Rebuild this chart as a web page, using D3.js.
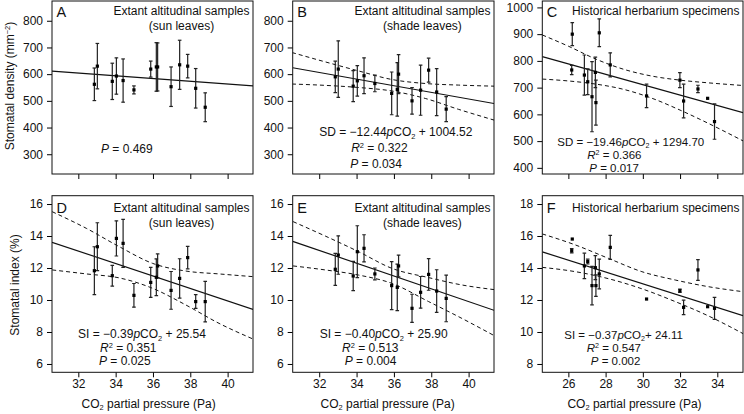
<!DOCTYPE html>
<html>
<head>
<meta charset="utf-8">
<script src="https://d3js.org/d3.v7.min.js"></script>
<style>
  body { margin: 0; background: #fff; }
  svg { font-family: "Liberation Sans", Arial, Helvetica, sans-serif; }
</style>
</head>
<body>
<svg id="chart" width="744" height="414"></svg>
<script>
// ---- data ----
const extantCO2 = [32.86, 33.02, 33.82, 34.04, 34.40, 34.98, 35.88, 36.18, 36.25, 36.97, 37.43, 37.86, 38.29, 38.80];
const sunDensity = [562, 630, 573, 593, 576, 541, 619, 627, 627, 553, 635, 630, 547, 476];
const sunDensityErr = [61, 85, 68, 68, 81, 15, 30, 91, 90, 74, 92, 44, 74, 54];
const shadeDensity = [590, 619, 555, 575, 594, 565, 528, 543, 600, 500, 540, 615, 533, 469];
const shadeDensityErr = [59, 106, 58, 57, 67, 31, 80, 100, 73, 50, 94, 45, 88, 47];
const sunIndex = [11.83, 13.33, 11.52, 13.85, 13.54, 10.29, 11.10, 11.42, 12.13, 10.60, 11.35, 12.65, 9.90, 9.90];
const sunIndexErr = [1.50, 1.50, 0.65, 1.10, 1.50, 0.74, 0.94, 1.15, 0.75, 1.18, 1.23, 0.70, 0.43, 1.27];
const shadeIndex = [11.92, 12.81, 11.50, 13.02, 13.23, 11.63, 10.90, 10.79, 12.13, 9.48, 10.48, 11.60, 10.56, 10.10];
const shadeIndexErr = [1.00, 1.20, 0.92, 1.62, 0.85, 0.37, 1.50, 1.45, 0.68, 0.88, 0.99, 0.99, 1.33, 1.46];

const herbCO2 = [26.18, 26.21, 26.86, 27.04, 27.27, 27.45, 27.48, 27.66, 28.25, 30.20, 31.99, 32.19, 32.96, 33.48, 33.85];
const herbDensity = [766, 900, 747, 722, 666, 757, 644, 905, 785, 669, 728, 650, 695, 660, 573];
const herbDensityErr = [17, 43, 75, 48, 131, 57, 84, 52, 45, 44, 28, 63, 14, 0, 66];
const herbIndex = [15.08, 15.81, 14.13, 14.40, 12.90, 14.02, 12.90, 13.63, 15.29, 12.06, 12.58, 11.54, 13.88, 11.58, 11.48];
const herbIndexErr = [0.13, 0, 0.80, 0.15, 1.20, 0.75, 0.67, 0.93, 0.75, 0, 0.10, 0.45, 0.65, 0, 0.69];

// regression lines (A estimated from the picture, others from the printed equations)
const fitSlopes = [-5.1, -12.44, -19.46, -0.39, -0.40, -0.37];
const fitIntercepts = [767, 1004.52, 1294.70, 25.54, 25.90, 24.11];

// dashed confidence bands, read at a few x positions
const bandShadeSD = {x: [30.54, 32.32, 34.11, 35.89, 37.68, 39.47, 41.36], up: [681, 646, 612, 580, 565, 559, 555], lo: [563, 558, 550, 537, 509, 468, 428]};
const bandHerbSD = {x: [24.6, 26, 27.5, 29, 30.5, 32, 33.5, 35.38], up: [897, 855, 806, 768, 743, 728, 718, 708], lo: [732, 725, 713, 693, 660, 616, 567, 501]};
const bandSunSI = {x: [30.6, 32.43, 34.2, 35.98, 37.76, 39.54, 41.36], up: [15.52, 14.48, 13.33, 12.29, 11.81, 11.63, 11.46], lo: [11.88, 11.63, 11.38, 10.73, 9.69, 8.54, 7.56]};
const bandShadeSI = {x: [30.6, 32.32, 34.11, 35.89, 37.86, 39.64, 41.36], up: [14.9, 14.0, 13.02, 11.98, 11.4, 10.94, 10.65], lo: [12.13, 11.88, 11.56, 11.04, 9.9, 8.85, 7.78]};
const bandHerbSI = {x: [24.6, 26.38, 28.16, 29.95, 31.74, 33.53, 35.38], up: [16.13, 15.44, 14.6, 13.77, 13.25, 12.83, 12.52], lo: [14.04, 13.77, 13.33, 12.7, 11.9, 11.0, 9.9]};

const extantTicks = [32, 34, 36, 38, 40];
const herbTicks = [26, 28, 30, 32, 34];
const densityTicksA = [300, 400, 500, 600, 700, 800];
const densityTicksC = [400, 500, 600, 700, 800, 900, 1000];
const indexTicksD = [6, 8, 10, 12, 14, 16];
const indexTicksF = [8, 10, 12, 14, 16, 18];

const letters = ['A', 'B', 'C', 'D', 'E', 'F'];
const titles = [
  ['Extant altitudinal samples', '(sun leaves)'],
  ['Extant altitudinal samples', '(shade leaves)'],
  ['Historical herbarium specimens'],
  ['Extant altitudinal samples', '(sun leaves)'],
  ['Extant altitudinal samples', '(shade leaves)'],
  ['Historical herbarium specimens']
];
const notes = [
  [[['P', 'i'], [' = 0.469']]],
  [[['SD = \u221212.44'], ['p', 'i'], ['CO'], ['2', 'sub'], [' + 1004.52']], [['R', 'i'], ['2', 'sup'], [' = 0.322']], [['P', 'i'], [' = 0.034']]],
  [[['SD = \u221219.46'], ['p', 'i'], ['CO'], ['2', 'sub'], [' + 1294.70']], [['R', 'i'], ['2', 'sup'], [' = 0.366']], [['P', 'i'], [' = 0.017']]],
  [[['SI = \u22120.39'], ['p', 'i'], ['CO'], ['2', 'sub'], [' + 25.54']], [['R', 'i'], ['2', 'sup'], [' = 0.351']], [['P', 'i'], [' = 0.025']]],
  [[['SI = \u22120.40'], ['p', 'i'], ['CO'], ['2', 'sub'], [' + 25.90']], [['R', 'i'], ['2', 'sup'], [' = 0.513']], [['P', 'i'], [' = 0.004']]],
  [[['SI = \u22120.37'], ['p', 'i'], ['CO'], ['2', 'sub'], ['+ 24.11']], [['R', 'i'], ['2', 'sup'], [' = 0.547']], [['P', 'i'], [' = 0.002']]]
];

// ---- layout ----
const cols = [[52, 253], [292.7, 494], [542.3, 743]];
const rows = [[1, 174], [195.7, 372.3]];
const FONT = '"Liberation Sans", Arial, Helvetica, sans-serif';

const panels = [
  {c: 0, r: 0, xs: extantCO2, ys: sunDensity, es: sunDensityErr, xDom: [30.59, 41.36], yDom: [226, 874], xT: extantTicks, yT: densityTicksA, band: null,
   noteSize: 12, noteAt: [[49, 153]]},
  {c: 1, r: 0, xs: extantCO2, ys: shadeDensity, es: shadeDensityErr, xDom: [30.58, 41.36], yDom: [226, 874], xT: extantTicks, yT: densityTicksA, band: bandShadeSD,
   noteSize: 12, noteAt: [[26.5, 136.3], [58.5, 151.7], [57.5, 168.3]]},
  {c: 2, r: 0, xs: herbCO2, ys: herbDensity, es: herbDensityErr, xDom: [24.6, 35.38], yDom: [377, 1024], xT: herbTicks, yT: densityTicksC, band: bandHerbSD,
   noteSize: 11.5, noteAt: [[15, 145.5], [45, 158.5], [47, 171.5]]},
  {c: 0, r: 1, xs: extantCO2, ys: sunIndex, es: sunIndexErr, xDom: [30.59, 41.36], yDom: [5.48, 16.52], xT: extantTicks, yT: indexTicksD, band: bandSunSI,
   noteSize: 12, noteAt: [[26, 338], [48, 351.5], [47, 365.3]]},
  {c: 1, r: 1, xs: extantCO2, ys: shadeIndex, es: shadeIndexErr, xDom: [30.58, 41.36], yDom: [5.48, 16.52], xT: extantTicks, yT: indexTicksD, band: bandShadeSI,
   noteSize: 12, noteAt: [[27, 338], [49.3, 351.5], [52, 365.3]]},
  {c: 2, r: 1, xs: herbCO2, ys: herbIndex, es: herbIndexErr, xDom: [24.6, 35.38], yDom: [7.48, 18.52], xT: herbTicks, yT: indexTicksF, band: bandHerbSI,
   noteSize: 11.5, noteAt: [[22, 338.5], [44.5, 351.5], [48.5, 365.3]]}
];

const svg = d3.select('#chart');

// text with italic / sub / sup runs
function rich(g, x, y, parts, size, anchor) {
  const t = g.append('text').attr('x', x).attr('y', y)
    .attr('font-size', size).attr('text-anchor', anchor || 'start').attr('fill', '#111');
  let shift = 0;
  parts.forEach(([s, st]) => {
    const sp = t.append('tspan').text(s);
    let target = 0;
    if (st === 'sub') { target = size * 0.22; sp.attr('font-size', size * 0.62); }
    if (st === 'sup') { target = -size * 0.33; sp.attr('font-size', size * 0.62); }
    if (st === 'i') sp.attr('font-style', 'italic');
    if (target !== shift) { sp.attr('dy', target - shift); shift = target; }
  });
  return t;
}

panels.forEach((p, i) => {
  const [x0, x1] = cols[p.c];
  const [y0, y1] = rows[p.r];
  const x = d3.scaleLinear().domain(p.xDom).range([x0, x1]);
  const y = d3.scaleLinear().domain(p.yDom).range([y1, y0]);
  const g = svg.append('g');

  const clipId = 'clip' + i;
  svg.append('clipPath').attr('id', clipId).append('rect')
    .attr('x', x0).attr('y', y0).attr('width', x1 - x0).attr('height', y1 - y0);

  // axes
  const yAxis = d3.axisLeft(y).tickValues(p.yT).tickFormat(d3.format('d'))
    .tickSize(5).tickPadding(4).tickSizeOuter(0);
  const xAxis = d3.axisBottom(x).tickValues(p.xT).tickFormat(d3.format('d'))
    .tickSize(5).tickPadding(2.5).tickSizeOuter(0);
  if (p.r === 0) xAxis.tickFormat('');
  [[yAxis, `translate(${x0},0)`], [xAxis, `translate(0,${y1})`]].forEach(([ax, tr]) => {
    g.append('g').attr('transform', tr).call(ax)
      .call(a => a.select('.domain').remove())
      .call(a => a.selectAll('text').attr('font-size', 12).attr('fill', '#111'))
      .attr('font-family', FONT);
  });

  const plot = g.append('g').attr('clip-path', `url(#${clipId})`);

  // confidence bands
  if (p.band) {
    const line = d3.line().curve(d3.curveMonotoneX).x(d => x(d[0])).y(d => y(d[1]));
    ['up', 'lo'].forEach(k => {
      plot.append('path')
        .datum(p.band.x.map((v, j) => [v, p.band[k][j]]))
        .attr('d', line)
        .attr('fill', 'none').attr('stroke', '#111').attr('stroke-width', 1)
        .attr('stroke-dasharray', '4,3');
    });
  }

  // regression line
  plot.append('line')
    .attr('x1', x(p.xDom[0])).attr('y1', y(fitIntercepts[i] + fitSlopes[i] * p.xDom[0]))
    .attr('x2', x(p.xDom[1])).attr('y2', y(fitIntercepts[i] + fitSlopes[i] * p.xDom[1]))
    .attr('stroke', '#111').attr('stroke-width', 1.2);

  // error bars + points
  const idx = d3.range(p.xs.length);
  const bars = plot.selectAll('.eb').data(idx.filter(j => p.es[j] > 0)).join('g')
    .attr('stroke', '#222').attr('stroke-width', 1.2);
  bars.append('line')
    .attr('x1', j => x(p.xs[j])).attr('x2', j => x(p.xs[j]))
    .attr('y1', j => y(p.ys[j] - p.es[j])).attr('y2', j => y(p.ys[j] + p.es[j]));
  [-1, 1].forEach(s => {
    bars.append('line')
      .attr('x1', j => x(p.xs[j]) - 1.8).attr('x2', j => x(p.xs[j]) + 1.8)
      .attr('y1', j => y(p.ys[j] + s * p.es[j])).attr('y2', j => y(p.ys[j] + s * p.es[j]));
  });
  plot.selectAll('.pt').data(idx).join('rect')
    .attr('x', j => x(p.xs[j]) - 1.6).attr('y', j => y(p.ys[j]) - 1.6)
    .attr('width', 3.2).attr('height', 3.2).attr('fill', '#000');

  // frame
  g.append('rect').attr('x', x0).attr('y', y0).attr('width', x1 - x0).attr('height', y1 - y0)
    .attr('fill', 'none').attr('stroke', '#111').attr('stroke-width', 1);

  // letter and title
  const top = p.r === 0 ? {letter: 17, t1: 15, t2: 30} : {letter: 212.5, t1: 212, t2: 226.5};
  g.append('text').attr('x', x0 + 4.5).attr('y', top.letter).attr('font-size', 14.5).attr('fill', '#111').text(letters[i]);
  const t1 = g.append('text').attr('x', x1 - 3.5).attr('y', top.t1).attr('font-size', 12)
    .attr('text-anchor', 'end').attr('fill', '#111').text(titles[i][0]);
  if (titles[i][1]) {
    const w = t1.node().getComputedTextLength();
    g.append('text').attr('x', x1 - 3.5 - w / 2).attr('y', top.t2).attr('font-size', 12)
      .attr('text-anchor', 'middle').attr('fill', '#111').text(titles[i][1]);
  }

  // statistics
  notes[i].forEach((parts, k) => {
    rich(g, x0 + p.noteAt[k][0], p.noteAt[k][1], parts, p.noteSize);
  });
});

// axis titles
const xTitleCenters = [148.7, 387.7, 634.5];
xTitleCenters.forEach(cx => {
  rich(svg, cx, 407.5, [['CO'], ['2', 'sub'], [' partial pressure (Pa)']], 12, 'middle');
});
rich(svg.append('g').attr('transform', 'translate(13.5,86) rotate(-90)'), 0, 0,
  [['Stomatal density (mm'], ['\u22122', 'sup'], [')']], 12, 'middle');
rich(svg.append('g').attr('transform', 'translate(18.5,285) rotate(-90)'), 0, 0,
  [['Stomatal index (%)']], 12, 'middle');
</script>
</body>
</html>
